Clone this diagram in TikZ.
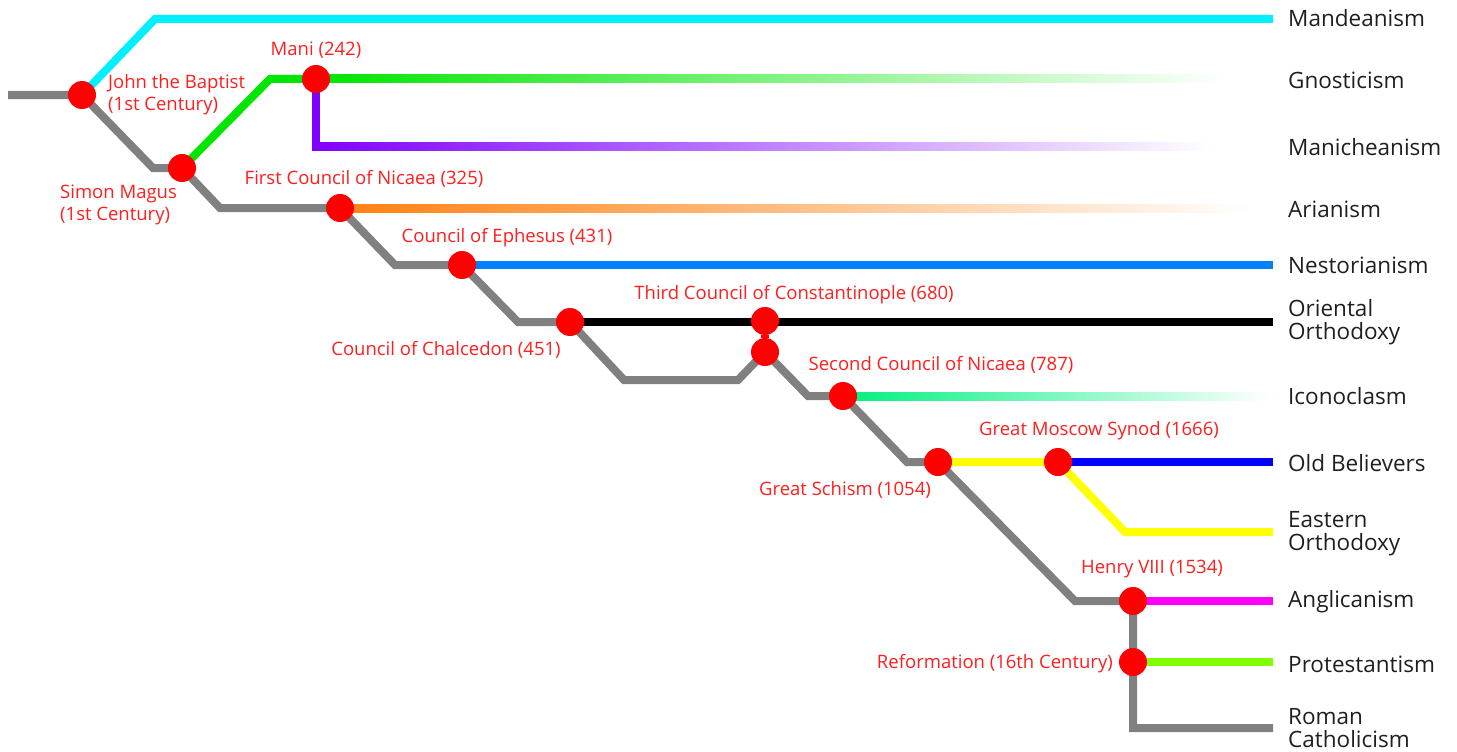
\documentclass[tikz,border=0pt]{standalone}
\usepackage{fontspec}
\setmainfont{Open Sans}
\usetikzlibrary{calc}
\definecolor{trunkgray}{RGB}{128,128,128}
\definecolor{mandcyan}{RGB}{0,240,255}
\definecolor{gnogreen}{RGB}{0,230,0}
\definecolor{manipurple}{RGB}{128,0,255}
\definecolor{ariorange}{RGB}{255,128,16}
\definecolor{nestblue}{RGB}{0,128,255}
\definecolor{iconogreen}{RGB}{0,240,128}
\definecolor{eoyellow}{RGB}{255,255,0}
\definecolor{obblue}{RGB}{0,0,255}
\definecolor{angmagenta}{RGB}{255,0,255}
\definecolor{protgreen}{RGB}{128,255,0}
\definecolor{labelred}{RGB}{255,30,30}
\begin{document}
\begin{tikzpicture}[x=1pt,y=-1pt,
  trackline/.style={line width=8pt},
  eventdot/.style={circle, fill=red, minimum size=28pt, inner sep=0pt},
  evlabel/.style={text=labelred, font=\fontsize{18.5}{22}\selectfont, inner sep=0pt, align=left},
  relabel/.style={text=black!88, font=\fontsize{22.5}{23}\selectfont, inner sep=0pt, align=left, anchor=west}]
\useasboundingbox (0,0) rectangle (1457,752);
% coordinates and event nodes
\coordinate (start) at (8,95);
\coordinate (c1) at (155,19);
\coordinate (mandEnd) at (1273,19);
\coordinate (b1) at (153,168);
\coordinate (g1) at (270,79);
\coordinate (gnoEnd) at (1225,79);
\coordinate (p1) at (316,146);
\coordinate (maniEnd) at (1212,146);
\coordinate (b2) at (220,208);
\coordinate (ariEnd) at (1252,208);
\coordinate (b3) at (395,265);
\coordinate (nestEnd) at (1273,265);
\coordinate (b4) at (518,322);
\coordinate (ooEnd) at (1273,322);
\coordinate (b5) at (624,380);
\coordinate (b6) at (738,380);
\coordinate (b7) at (808,396);
\coordinate (iconoEnd) at (1270,396);
\coordinate (b8) at (907,462);
\coordinate (obEnd) at (1273,462);
\coordinate (y1) at (1125,532);
\coordinate (eoEnd) at (1273,532);
\coordinate (b9) at (1075,601);
\coordinate (angEnd) at (1273,601);
\coordinate (protEnd) at (1273,662);
\coordinate (b10) at (1133,728);
\coordinate (rcEnd) at (1273,728);
\path (82,95) coordinate (johnP) (182,168) coordinate (simonP) (316,79) coordinate (maniP)
      (340,208) coordinate (nicaeaP) (462,265) coordinate (ephesusP) (570,322) coordinate (chalcP)
      (765,321) coordinate (constaP) (765,352) coordinate (constbP) (843,396) coordinate (nicaeaIIP)
      (938,462) coordinate (schismP) (1058,462) coordinate (moscowP) (1133,601) coordinate (henryP)
      (1133,662) coordinate (reformP);
% faded branches
\shade[left color=gnogreen, right color=white] ($(maniP)+(0,-4)$) rectangle ($(gnoEnd)+(0,4)$);
\shade[left color=manipurple, right color=white] ($(p1)+(-4,-4)$) rectangle ($(maniEnd)+(0,4)$);
\shade[left color=ariorange, right color=white] ($(nicaeaP)+(0,-4)$) rectangle ($(ariEnd)+(0,4)$);
\shade[left color=iconogreen, right color=white] ($(nicaeaIIP)+(0,-4)$) rectangle ($(iconoEnd)+(0,4)$);
\draw[trackline, manipurple] (maniP) -- (p1);
% solid branches
\draw[trackline, mandcyan] (johnP) -- (c1) -- (mandEnd);
\draw[trackline, gnogreen] (simonP) -- (g1) -- (maniP);
\draw[trackline, nestblue] (ephesusP) -- (nestEnd);
\draw[trackline, black] (chalcP) -- (ooEnd);
\draw[trackline, eoyellow] (schismP) -- (moscowP) -- (y1) -- (eoEnd);
\draw[trackline, obblue] (moscowP) -- (obEnd);
\draw[trackline, angmagenta] (henryP) -- (angEnd);
\draw[trackline, protgreen] (reformP) -- (protEnd);
\draw[trackline, trunkgray] (start) -- (johnP) -- (b1) -- (simonP) -- (b2) -- (nicaeaP) -- (b3) -- (ephesusP)
  -- (b4) -- (chalcP) -- (b5) -- (b6) -- (constbP) -- (b7) -- (nicaeaIIP) -- (b8) -- (schismP)
  -- (b9) -- (henryP) -- (reformP) -- (b10) -- (rcEnd);
% event dots
\node[eventdot] (john) at (johnP) {};
\node[eventdot] (simon) at (simonP) {};
\node[eventdot] (mani) at (maniP) {};
\node[eventdot] (nicaea) at (nicaeaP) {};
\node[eventdot] (ephesus) at (ephesusP) {};
\node[eventdot] (chalcedon) at (chalcP) {};
\node[eventdot] (consta) at (constaP) {};
\node[eventdot] (constb) at (constbP) {};
\draw[red, line width=8pt] (consta) -- (constb);
\node[eventdot] (nicaeaII) at (nicaeaIIP) {};
\node[eventdot] (schism) at (schismP) {};
\node[eventdot] (moscow) at (moscowP) {};
\node[eventdot] (henry) at (henryP) {};
\node[eventdot] (reform) at (reformP) {};
% event labels
\node[evlabel, anchor=west] (lJohn) at (108,95) {John the Baptist\\(1st Century)};
\node[evlabel, anchor=west] (lSimon) at (60,205) {Simon Magus\\(1st Century)};
\node[evlabel] (lMani) at (316,50) {Mani (242)};
\node[evlabel] (lNicaea) at (364,179) {First Council of Nicaea (325)};
\node[evlabel] (lEphesus) at (507,238) {Council of Ephesus (431)};
\node[evlabel] (lChalc) at (446,350) {Council of Chalcedon (451)};
\node[evlabel] (lConst) at (794,295) {Third Council of Constantinople (680)};
\node[evlabel] (lNicaeaII) at (941,365) {Second Council of Nicaea (787)};
\node[evlabel] (lMoscow) at (1099,431) {Great Moscow Synod (1666)};
\node[evlabel] (lSchism) at (845,490) {Great Schism (1054)};
\node[evlabel] (lHenry) at (1152,569) {Henry VIII (1534)};
\node[evlabel, anchor=east] (lReform) at (1113,664) {Reformation (16th Century)};
% religion labels
\node[relabel] (rMand) at (1288,18) {Mandeanism};
\node[relabel] (rGno) at (1288,80) {Gnosticism};
\node[relabel] (rMani) at (1288,147) {Manicheanism};
\node[relabel] (rAri) at (1288,209) {Arianism};
\node[relabel] (rNest) at (1288,265) {Nestorianism};
\node[relabel] (rOO) at (1288,322) {Oriental\\Orthodoxy};
\node[relabel] (rIcono) at (1288,396) {Iconoclasm};
\node[relabel] (rOB) at (1288,463) {Old Believers};
\node[relabel] (rEO) at (1288,534) {Eastern\\Orthodoxy};
\node[relabel] (rAng) at (1288,602) {Anglicanism};
\node[relabel] (rProt) at (1288,664) {Protestantism};
\node[relabel] (rRC) at (1288,728) {Roman\\Catholicism};
\end{tikzpicture}
\end{document}
